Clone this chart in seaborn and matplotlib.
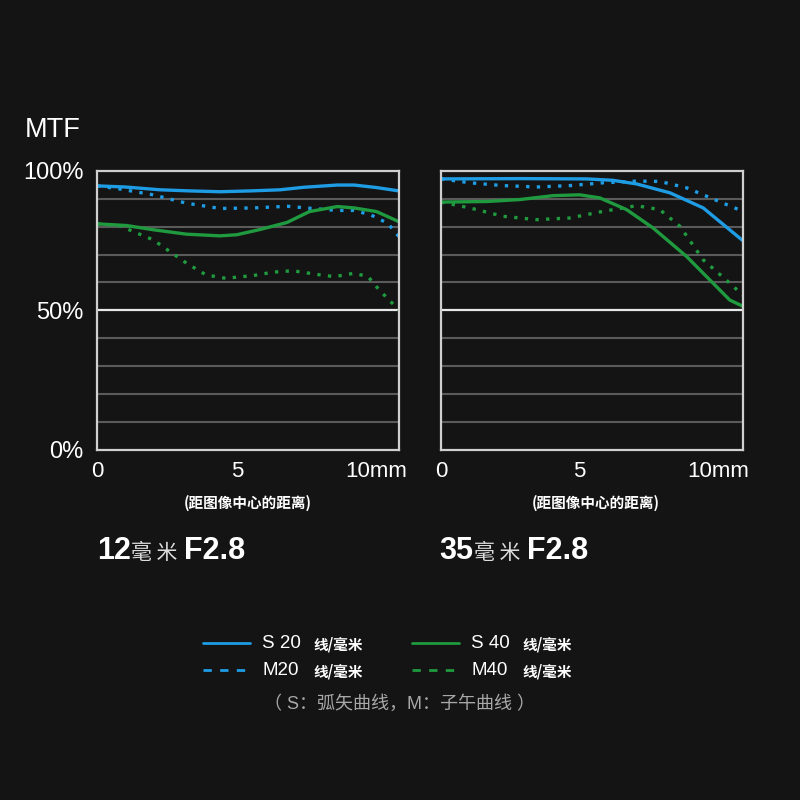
import numpy as np
import pandas as pd
import matplotlib
matplotlib.use("Agg")
import matplotlib.pyplot as plt
import seaborn as sns
from matplotlib.lines import Line2D

# ---- data (MTF %, distance from image centre in mm) ----
# 12mm F2.8
x12_s20 = [0, 1.0, 2.25, 3.3, 4.4, 5.5, 6.55, 7.4, 8.6, 9.2, 10.0, 10.8]
y12_s20 = [94.6, 94.2, 93.2, 92.8, 92.5, 92.8, 93.2, 94.1, 94.9, 94.9, 94.0, 92.8]
x12_m20 = [0, 0.8, 2.0, 3.2, 4.4, 5.6, 6.8, 7.6, 8.6, 9.2, 9.8, 10.4, 10.8]
y12_m20 = [94.6, 93.5, 91.4, 88.4, 86.5, 86.7, 87.3, 86.6, 85.8, 85.8, 84.2, 81.2, 76.5]
x12_s40 = [0, 1.05, 2.0, 3.2, 4.4, 5.0, 5.8, 6.8, 7.6, 8.6, 9.2, 10.0, 10.8]
y12_s40 = [81.0, 80.4, 78.9, 77.3, 76.7, 77.1, 78.9, 81.5, 85.4, 87.2, 86.7, 85.4, 81.8]
x12_m40 = [0, 0.8, 2.0, 3.2, 3.9, 4.6, 5.6, 6.3, 7.0, 8.0, 8.5, 9.2, 9.7, 10.1, 10.8]
y12_m40 = [81.0, 80.3, 75.3, 66.9, 62.7, 61.5, 62.5, 63.7, 64.2, 62.7, 62.1, 63.3, 62.1, 57.3, 50.2]

# 35mm F2.8
x35_s20 = [0, 2.84, 5.25, 6.2, 7.06, 8.27, 9.47, 10.9]
y35_s20 = [97.1, 97.2, 97.1, 96.6, 95.3, 92.1, 86.7, 75.0]
x35_m20 = [0, 1.04, 2.24, 3.45, 4.65, 5.86, 7.06, 7.9, 8.87, 9.83, 10.9]
y35_m20 = [97.1, 95.7, 94.7, 94.2, 94.7, 95.7, 96.3, 96.2, 93.9, 89.9, 85.5]
x35_s40 = [0, 1.64, 2.84, 4.05, 5.0, 5.73, 6.7, 7.66, 8.87, 9.83, 10.43, 10.9]
y35_s40 = [88.8, 89.0, 89.7, 91.1, 91.4, 90.3, 86.1, 79.5, 69.3, 59.7, 53.7, 51.5]
x35_m40 = [0, 1.04, 2.24, 3.45, 4.65, 5.86, 7.06, 7.9, 8.63, 9.47, 10.3, 10.9]
y35_m40 = [88.8, 86.7, 83.7, 82.5, 83.1, 85.5, 87.5, 86.1, 80.1, 68.1, 60.9, 55.5]

x_ticks = [0, 5, 10]
x_ticklabels = ["0", "5", "10mm"]
y_ticks = [0, 50, 100]
y_ticklabels = ["0%", "50%", "100%"]
lens_titles = ["12", "35"]
legend_labels = ["S 20", "M20", "S 40", "M40"]


def long_df(curves):
    rows = []
    for (freq, kind), (xs, ys) in curves.items():
        for xv, yv in zip(xs, ys):
            rows.append({"mm": xv, "mtf": yv, "freq": freq, "kind": kind})
    return pd.DataFrame(rows)


df12 = long_df({("20", "S"): (x12_s20, y12_s20), ("20", "M"): (x12_m20, y12_m20),
                ("40", "S"): (x12_s40, y12_s40), ("40", "M"): (x12_m40, y12_m40)})
df35 = long_df({("20", "S"): (x35_s20, y35_s20), ("20", "M"): (x35_m20, y35_m20),
                ("40", "S"): (x35_s40, y35_s40), ("40", "M"): (x35_m40, y35_m40)})

BG = "#141414"
BLUE = "#1e9ce4"
GREEN = "#1f9a3f"
palette = {"20": BLUE, "40": GREEN}
dashes = {"S": "", "M": (1.0, 2.2)}

sns.set_style("dark")
plt.rcParams["font.family"] = ["Liberation Sans", "Noto Sans CJK SC", "DejaVu Sans"]

fig = plt.figure(figsize=(8, 8), dpi=100, facecolor=BG)
ax1 = fig.add_axes([0.1215, 0.4375, 0.377, 0.349])
ax2 = fig.add_axes([0.5515, 0.4375, 0.377, 0.349])

for ax, df, xmax in [(ax1, df12, 10.8), (ax2, df35, 10.9)]:
    ax.set_facecolor(BG)
    for y in range(10, 100, 10):
        if y != 50:
            ax.axhline(y, color="#5a5a5a", lw=1.5, zorder=1)
    ax.axhline(50, color="#e8e8e8", lw=1.6, zorder=1)
    sns.lineplot(data=df, x="mm", y="mtf", hue="freq", style="kind",
                 palette=palette, dashes=dashes, lw=2.4, legend=False, ax=ax,
                 estimator=None, sort=False, zorder=3)
    ax.set_xlim(0, xmax)
    ax.set_ylim(0, 100)
    ax.set_xticks(x_ticks)
    ax.set_xticklabels(x_ticklabels, color="white", fontsize=16)
    ax.tick_params(axis="x", direction="in", length=6, width=1.5,
                   color="#dddddd", pad=8)
    ax.set_yticks(y_ticks)
    if ax is ax1:
        ax.set_yticklabels(y_ticklabels, color="white", fontsize=17)
    else:
        ax.set_yticklabels([])
    ax.tick_params(axis="y", length=0, pad=10)
    ax.set_xlabel("")
    ax.set_ylabel("")
    ax.grid(False)
    for s in ax.spines.values():
        s.set_visible(True)
        s.set_color("#cfcfcf")
        s.set_linewidth(1.6)
        s.set_zorder(5)

fig.text(0.031, 0.838, "MTF", color="white", fontsize=19.5, ha="left", va="center")

# subtitle under each panel
for cx in [0.31, 0.745]:
    fig.text(cx, 0.371, "(距图像中心的距离)", color="white", fontsize=10.5,
             ha="center", va="center", fontweight="bold",
             family=["Noto Sans CJK SC", "DejaVu Sans"])

# lens titles
for lx, num in [(0.121, lens_titles[0]), (0.549, lens_titles[1])]:
    t1 = fig.text(lx, 0.311, num, color="white", fontsize=22, fontweight="bold",
                  ha="left", va="center")
    fig.canvas.draw()
    x2 = t1.get_window_extent().x1 / fig.bbox.width
    t2 = fig.text(x2 + 0.001, 0.309, "毫 米", color="#dddddd", fontsize=15,
                  ha="left", va="center", family=["Noto Sans CJK SC"])
    fig.canvas.draw()
    x3 = t2.get_window_extent().x1 / fig.bbox.width
    fig.text(x3 + 0.008, 0.311, "F2.8", color="white", fontsize=22, fontweight="bold",
             ha="left", va="center")

# legend (drawn by hand: two columns, label + unit)
leg_pos = [(0.254, 0.196), (0.254, 0.162), (0.515, 0.196), (0.515, 0.162)]
leg_col = [BLUE, BLUE, GREEN, GREEN]
leg_ls = ["-", (0, (3, 3)), "-", (0, (3, 3))]
for (lx, ly), col, ls, lab in zip(leg_pos, leg_col, leg_ls, legend_labels):
    fig.add_artist(Line2D([lx, lx + 0.059], [ly, ly], color=col, lw=2, ls=ls))
    fig.text(lx + 0.074, ly, lab, color="white", fontsize=13.5, ha="left", va="center")
    fig.text(lx + 0.138, ly - 0.001, "线/毫米", color="white", fontsize=10.5,
             ha="left", va="center", fontweight="bold",
             family=["Noto Sans CJK SC", "DejaVu Sans"])

fig.text(0.5, 0.12, "（ S：弧矢曲线，M：子午曲线 ）", color="#a8a8a8", fontsize=13,
         ha="center", va="center", family=["Liberation Sans", "Noto Sans CJK SC"])

fig.savefig("out.png", dpi=100, facecolor=BG)
